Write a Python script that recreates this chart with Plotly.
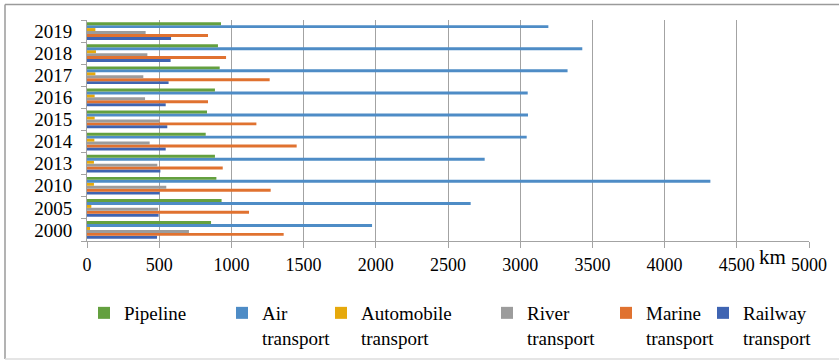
import plotly.graph_objects as go

# Length of transport routes by year (km)
years = ["2000", "2005", "2010", "2013", "2014", "2015", "2016", "2017", "2018", "2019"]
pipeline = [859, 932, 896, 886, 822, 831, 886, 919, 907, 928]
air = [1974, 2657, 4317, 2754, 3045, 3054, 3052, 3328, 3430, 3195]
automobile = [21, 30, 48, 48, 51, 53, 53, 58, 62, 58]
river = [706, 492, 549, 487, 434, 501, 402, 390, 418, 406]
marine = [1362, 1122, 1272, 940, 1452, 1173, 838, 1265, 963, 838]
railway = [485, 496, 503, 508, 545, 556, 545, 565, 579, 582]

x_ticks = list(range(0, 5001, 500))

W, H = 839, 363
L, R, T, B = 87, 30, 20, 122
PW, PH = W - L - R, H - T - B


def px(xp):
    return (xp - L) / PW


def py(yp):
    return (H - B - yp) / PH


FONT = "'Liberation Serif', 'Times New Roman', 'DejaVu Serif', serif"

# bottom-to-top order inside each year group
series = [
    ("Railway<br>transport", railway, "#3F64B2", "legend6", 726),
    ("Marine<br>transport", marine, "#E07230", "legend5", 629),
    ("River<br>transport", river, "#9C9C9C", "legend4", 510),
    ("Automobile<br>transport", automobile, "#E6A90C", "legend3", 344),
    ("Air<br>transport", air, "#4E8CC6", "legend2", 245),
    ("Pipeline", pipeline, "#64A03F", "legend", 107),
]

fig = go.Figure()
legends = {}
for name, vals, color, lg, sw in series:
    fig.add_trace(go.Bar(
        y=years, x=vals, name=name, orientation="h",
        marker=dict(color=color, line=dict(width=0)),
        legend=lg,
    ))
    legends[lg] = dict(
        x=px(sw - 23), y=py(294), xanchor="left", yanchor="top",
        orientation="v", valign="top", itemwidth=30,
        bgcolor="rgba(0,0,0,0)", borderwidth=0,
        font=dict(family=FONT, size=19, color="#000000"),
    )

axis_grey = "#a3a3a3"
fig.update_layout(
    width=W, height=H,
    margin=dict(l=L, r=R, t=T, b=B, pad=0, autoexpand=False),
    paper_bgcolor="white", plot_bgcolor="white",
    barmode="group", bargap=0.2, bargroupgap=0,
    font=dict(family=FONT, color="#000000"),
    xaxis=dict(
        range=[0, 5000], tickmode="array", tickvals=x_ticks,
        ticktext=[str(v) for v in x_ticks],
        showgrid=True, gridcolor=axis_grey, gridwidth=1,
        showline=True, linecolor=axis_grey, linewidth=1,
        ticks="outside", ticklen=6, tickcolor=axis_grey,
        tickfont=dict(family=FONT, size=18, color="#000000"),
        ticklabelstandoff=1, zeroline=False, fixedrange=True,
        automargin=False,
    ),
    yaxis=dict(
        type="category", categoryorder="array", categoryarray=years,
        tickmode="array", tickvals=years, ticktext=years,
        showgrid=False, showline=True, linecolor=axis_grey, linewidth=1,
        ticks="outside", tickson="boundaries", ticklen=5, tickcolor=axis_grey,
        tickfont=dict(family=FONT, size=19, color="#000000"),
        ticklabelstandoff=10, zeroline=False, fixedrange=True,
        automargin=False,
    ),
    showlegend=True,
    **legends,
    annotations=[dict(
        text="km", xref="paper", yref="paper", x=px(772), y=py(257),
        xanchor="center", yanchor="middle", showarrow=False,
        font=dict(family=FONT, size=21, color="#000000"),
    )],
    shapes=[
        dict(type="line", xref="paper", yref="paper", x0=px(5), x1=px(850),
             y0=py(4.5), y1=py(4.5), line=dict(color="#9a9a9a", width=1.5)),
        dict(type="line", xref="paper", yref="paper", x0=px(5), x1=px(5),
             y0=py(4.5), y1=py(359), line=dict(color="#9a9a9a", width=1.5)),
        dict(type="line", xref="paper", yref="paper", x0=px(5), x1=px(850),
             y0=py(359), y1=py(359), line=dict(color="#dcdcdc", width=1.5)),
    ],
)

fig.write_html("out.html")
